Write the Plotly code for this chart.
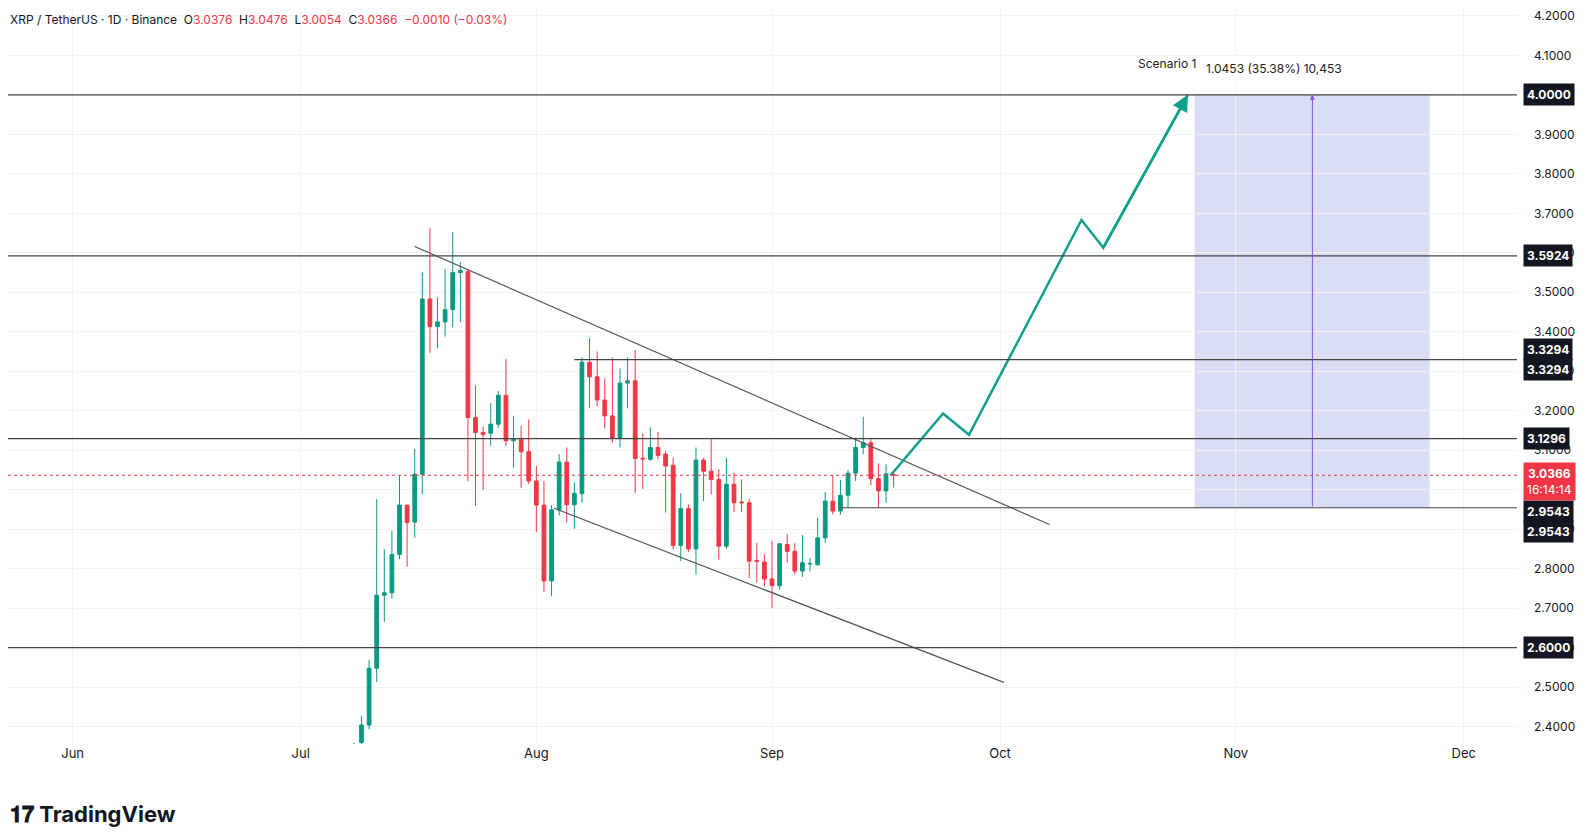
import plotly.graph_objects as go
import pandas as pd

# daily candles, XRP/USDT, from Jul 8
opens = [2.30, 2.36, 2.404, 2.548, 2.733, 2.739, 2.836, 2.961, 2.918, 3.039, 3.483, 3.413, 3.425, 3.456, 3.550,
         3.552, 3.183, 3.145, 3.143, 3.166, 3.239, 3.124, 3.128, 3.096, 3.022, 2.961, 2.769, 2.949, 3.070, 2.962,
         2.990, 3.323, 3.286, 3.227, 3.187, 3.130, 3.270, 3.276, 3.080, 3.077, 3.107, 3.090, 3.062, 2.859, 2.952,
         2.850, 3.075, 3.047, 3.026, 2.857, 3.014, 2.969, 2.967, 2.821, 2.817, 2.774, 2.757, 2.861, 2.844, 2.794,
         2.812, 2.810, 2.878, 2.971, 2.946, 2.986, 3.042, 3.107, 3.119, 3.028, 2.997, 3.0376]
highs = [2.36, 2.428, 2.569, 2.976, 2.849, 2.896, 3.035, 2.961, 3.103, 3.550, 3.662, 3.487, 3.559, 3.652, 3.577,
         3.559, 3.265, 3.160, 3.219, 3.250, 3.331, 3.187, 3.162, 3.178, 3.060, 3.022, 2.961, 3.090, 3.107, 3.018,
         3.335, 3.384, 3.350, 3.282, 3.335, 3.307, 3.335, 3.354, 3.143, 3.158, 3.146, 3.098, 3.081, 2.991, 2.963,
         3.107, 3.081, 3.130, 3.052, 3.081, 3.043, 3.026, 2.977, 2.865, 2.836, 2.870, 2.865, 2.887, 2.865, 2.885,
         2.827, 2.929, 2.994, 3.036, 3.025, 3.050, 3.132, 3.185, 3.128, 3.067, 3.064, 3.0476]
lows = [2.29, 2.35, 2.393, 2.513, 2.665, 2.724, 2.824, 2.805, 2.879, 2.988, 3.347, 3.358, 3.388, 3.411, 3.424,
        3.022, 2.959, 2.999, 3.111, 3.157, 3.111, 3.056, 3.005, 3.014, 2.893, 2.741, 2.731, 2.935, 2.917, 2.901,
        2.967, 3.207, 3.211, 3.155, 3.119, 3.107, 3.206, 2.992, 3.002, 3.073, 3.077, 2.942, 2.849, 2.819, 2.842,
        2.785, 2.971, 2.988, 2.823, 2.849, 2.943, 2.943, 2.776, 2.764, 2.755, 2.700, 2.747, 2.815, 2.785, 2.779,
        2.793, 2.808, 2.865, 2.937, 2.937, 2.954, 3.022, 3.090, 3.011, 2.954, 2.967, 3.0054]
closes = [2.34, 2.404, 2.548, 2.733, 2.739, 2.836, 2.961, 2.917, 3.039, 3.483, 3.413, 3.425, 3.456, 3.550, 3.555,
          3.183, 3.145, 3.140, 3.166, 3.239, 3.124, 3.128, 3.096, 3.022, 2.961, 2.769, 2.949, 3.070, 2.962, 2.991,
          3.323, 3.286, 3.227, 3.187, 3.130, 3.270, 3.276, 3.079, 3.078, 3.107, 3.087, 3.060, 2.859, 2.952, 2.850,
          3.075, 3.047, 3.026, 2.857, 3.014, 2.967, 2.967, 2.819, 2.819, 2.774, 2.757, 2.863, 2.844, 2.794, 2.815,
          2.813, 2.878, 2.971, 2.946, 2.986, 3.042, 3.107, 3.119, 3.028, 2.997, 3.040, 3.0366]
dates = pd.date_range("2025-07-08", periods=len(opens), freq="D")

levels = [4.0, 3.5924, 3.1296, 2.6]
level_tags = ["4.0000", "3.5924", "3.1296", "2.6000"]
upper_trend = (["2025-07-16 00:00", "2025-10-07 12:00"], [3.616, 2.912])
lower_trend = (["2025-08-03 08:00", "2025-10-01 12:00"], [2.953, 2.512])
path_x = ["2025-09-16 14:00", "2025-09-23 12:00", "2025-09-26 22:00", "2025-10-11 17:00", "2025-10-14 14:00", "2025-10-25 17:00"]
path_y = [3.036, 3.193, 3.139, 3.683, 3.613, 4.0]
month_ticks = ["2025-06-01", "2025-07-01", "2025-08-01", "2025-09-01", "2025-10-01", "2025-11-01", "2025-12-01"]
month_labels = ["Jun", "Jul", "Aug", "Sep", "Oct", "Nov", "Dec"]
price_ticks = [2.4, 2.5, 2.6, 2.7, 2.8, 2.9, 3.0, 3.1, 3.2, 3.3, 3.4, 3.5, 3.6, 3.7, 3.8, 3.9, 4.0, 4.1, 4.2]

GREEN = "#089981"
RED = "#F23645"
X0, X1 = "2025-05-23 12:00", "2025-12-08 00:00"

fig = go.Figure()

# target box
fig.add_shape(type="rect", x0="2025-10-26 14:00", x1="2025-11-26 12:00", y0=2.9543, y1=4.0,
              fillcolor="rgba(180,190,235,0.5)", line_width=0, layer="below")

for lv in levels:
    fig.add_shape(type="line", x0=X0, x1=X1, y0=lv, y1=lv, line=dict(color="#444", width=1.2))
fig.add_shape(type="line", x0="2025-08-06", x1=X1, y0=3.3294, y1=3.3294, line=dict(color="#444", width=1.2))
fig.add_shape(type="line", x0="2025-09-10", x1=X1, y0=2.9543, y1=2.9543, line=dict(color="#444", width=1.2))
fig.add_shape(type="line", x0=X0, x1=X1, y0=3.0366, y1=3.0366, line=dict(color=RED, width=1, dash="dot"))

for tx, ty in [upper_trend, lower_trend]:
    fig.add_trace(go.Scatter(x=tx, y=ty, mode="lines", line=dict(color="#555", width=1.2),
                             hoverinfo="skip", showlegend=False))

fig.add_trace(go.Candlestick(x=dates, open=opens, high=highs, low=lows, close=closes,
                             increasing=dict(line=dict(color=GREEN, width=1), fillcolor=GREEN),
                             decreasing=dict(line=dict(color=RED, width=1), fillcolor=RED),
                             whiskerwidth=0, showlegend=False))

fig.add_trace(go.Scatter(x=path_x, y=path_y, mode="lines", line=dict(color="#11a08a", width=2.5),
                         hoverinfo="skip", showlegend=False))
fig.add_annotation(x=path_x[-1], y=path_y[-1], ax=path_x[-2], ay=path_y[-2], axref="x", ayref="y",
                   showarrow=True, arrowhead=2, arrowsize=1.3, arrowwidth=2.5, arrowcolor="#11a08a", text="")
fig.add_annotation(x="2025-11-11 02:00", y=4.0, ax="2025-11-11 02:00", ay=2.9543, axref="x", ayref="y",
                   showarrow=True, arrowhead=2, arrowsize=1, arrowwidth=1, arrowcolor="#8a4fd8", text="")
fig.add_annotation(x="2025-10-23", y=4.08, text="Scenario 1", showarrow=False, font=dict(size=12, color="#222"))
fig.add_annotation(x="2025-11-06", y=4.068, text="1.0453 (35.38%) 10,453", showarrow=False,
                   font=dict(size=12, color="#222"), bgcolor="white", borderpad=4)

# right-side price tags
def tag(y, text, bg="#131722", yshift=0):
    fig.add_annotation(xref="paper", x=1.0, xshift=6, y=y, yshift=yshift, xanchor="left", text=text, showarrow=False,
                       font=dict(size=12, color="white", family="Inter"), bgcolor=bg, borderpad=3)

for lv, t in zip(levels, level_tags):
    tag(lv, "<b>%s</b>" % t)
tag(3.3294, "<b>3.3294</b>", yshift=10)
tag(3.3294, "<b>3.3294</b>", yshift=-10)
tag(2.9543, "<b>2.9543</b>", yshift=-4)
tag(2.9543, "<b>2.9543</b>", yshift=-24)
tag(3.0366, "<b>3.0366</b><br>16:14:14", bg=RED, yshift=-6)

fig.add_annotation(xref="paper", yref="paper", x=0.0, y=1.0, yanchor="top", xanchor="left", showarrow=False,
                   text="XRP / TetherUS · 1D · Binance  O<span style='color:#F23645'>3.0376</span>  "
                        "H<span style='color:#F23645'>3.0476</span>  L<span style='color:#F23645'>3.0054</span>  "
                        "C<span style='color:#F23645'>3.0366</span>  <span style='color:#F23645'>−0.0010 (−0.03%)</span>",
                   font=dict(size=12, color="#131722"), yshift=-2)
fig.add_annotation(xref="paper", yref="paper", x=0.0, y=-0.075, xanchor="left", yanchor="top", showarrow=False,
                   text="<b>𝟏𝟕 TradingView</b>", font=dict(size=22, color="#131722"))

fig.update_layout(
    width=1610, height=846, margin=dict(l=0, r=101, t=0, b=110),
    paper_bgcolor="white", plot_bgcolor="white", font=dict(family="Inter", color="#131722"),
    xaxis=dict(range=[X0, X1], rangeslider=dict(visible=False), tickvals=month_ticks, ticktext=month_labels,
               showgrid=True, gridcolor="#f3f3f3", tickfont=dict(size=13), ticks="", showline=False),
    yaxis=dict(side="right", range=[2.356, 4.22], tickvals=price_ticks, ticklabelstandoff=16,
               ticktext=["%.4f" % v for v in price_ticks], showgrid=True, gridcolor="#f3f3f3",
               tickfont=dict(size=12), zeroline=False),
)

fig.write_html("out.html")
